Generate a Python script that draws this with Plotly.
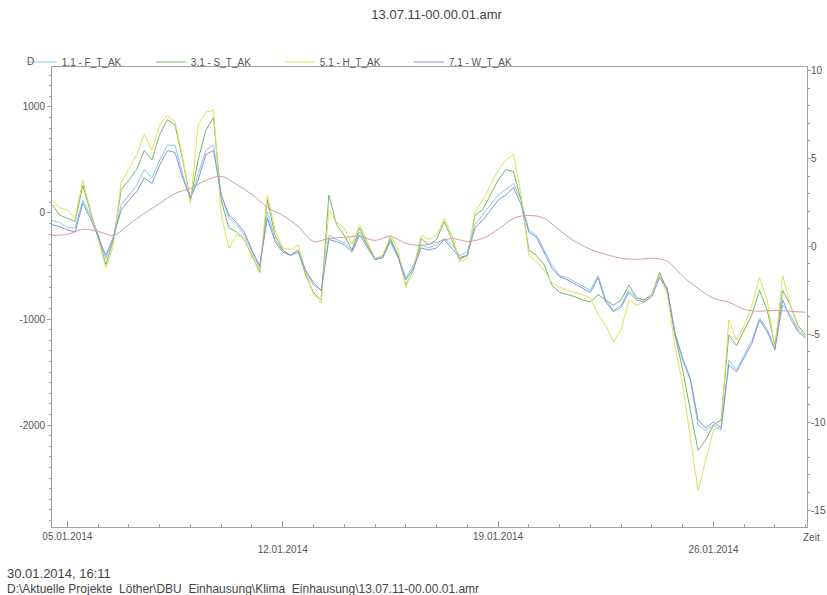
import pandas as pd
import plotly.graph_objects as go

# Zeitachse: 6-stuendliche Werte, Aussentemperatur 12-stuendlich
zeit = pd.date_range('2014-01-04 12:00', '2014-01-29 00:00', freq='6h')
zeit_temp = pd.date_range('2014-01-04 12:00', '2014-01-29 00:00', freq='12h')

f_t_ak = [-70, -90, -140, -140, 120, -20, -210, -430, -240, 80,
          170, 260, 410, 330, 500, 640, 640, 360, 140, 360,
          590, 640, 170, -50, -110, -210, -370, -520, 10, -250,
          -350, -400, -350, -560, -680, -730, -210, -250, -280, -350,
          -180, -300, -430, -400, -250, -400, -610, -490, -300, -330,
          -300, -240, -300, -400, -370, -110, -20, 80, 170, 220,
          280, 120, -160, -210, -350, -490, -590, -610, -650, -690,
          -730, -590, -820, -920, -870, -730, -800, -820, -770, -590,
          -730, -1150, -1390, -1580, -2000, -2050, -2000, -2050, -1390, -1480,
          -1340, -1200, -990, -1100, -1270, -870, -960, -1100, -1160]

s_t_ak = [80, -20, -50, -80, 260, 10, -210, -490, -250, 220,
          310, 410, 590, 500, 740, 880, 830, 500, 120, 500,
          780, 900, 120, -140, -180, -250, -400, -560, 120, -210,
          -350, -400, -350, -590, -750, -820, 170, -110, -210, -350,
          -140, -300, -440, -420, -240, -400, -680, -540, -240, -300,
          -250, -80, -250, -440, -400, -20, 30, 170, 310, 410,
          390, 120, -350, -400, -490, -680, -750, -770, -790, -820,
          -840, -770, -820, -870, -820, -680, -800, -820, -770, -560,
          -730, -1150, -1480, -1860, -2240, -2140, -2000, -1950, -1150, -1250,
          -1100, -960, -730, -920, -1250, -730, -870, -1060, -1150]

h_t_ak = [120, 50, 30, -50, 310, 30, -240, -520, -300, 290,
          420, 550, 740, 590, 830, 920, 860, 520, 90, 830,
          950, 970, -20, -330, -210, -240, -420, -540, 170, -160,
          -330, -350, -300, -560, -770, -850, 30, -90, -140, -300,
          -110, -270, -430, -400, -210, -350, -700, -520, -210, -250,
          -210, -50, -210, -460, -430, 10, 120, 260, 400, 500,
          550, 170, -400, -460, -540, -660, -700, -730, -750, -770,
          -800, -960, -1060, -1220, -1100, -820, -870, -840, -770, -590,
          -770, -1250, -1620, -2140, -2620, -2330, -2050, -2000, -1010, -1200,
          -1060, -870, -610, -820, -1290, -590, -870, -1080, -1150]

w_t_ak = [-110, -130, -160, -180, 90, -50, -230, -400, -220, 30,
          120, 200, 330, 280, 450, 590, 570, 330, 140, 310,
          550, 590, 170, -20, -90, -180, -350, -500, -50, -270,
          -370, -400, -370, -540, -660, -730, -250, -270, -300, -370,
          -210, -320, -440, -420, -270, -420, -630, -520, -330, -350,
          -330, -250, -330, -420, -400, -140, -70, 30, 120, 170,
          240, 80, -180, -230, -380, -520, -600, -630, -670, -710,
          -750, -610, -840, -930, -890, -750, -820, -840, -790, -610,
          -710, -1130, -1370, -1560, -1950, -2030, -1970, -2030, -1430, -1500,
          -1370, -1230, -1010, -1120, -1290, -820, -990, -1120, -1180]

temp = [0.63, 0.68, 0.97, 0.85, 0.63, 1.25, 1.88, 2.44, 3.01, 3.30,
        3.75, 3.98, 3.52, 2.95, 2.22, 1.76, 1.14, 0.28, 0.45, 0.51,
        0.57, 0.34, 0.57, 0.17, 0.06, 0.23, 0.45, 0.28, 0.45, 0.97,
        1.59, 1.76, 1.59, 0.91, 0.28, -0.17, -0.45, -0.68, -0.74, -0.68,
        -0.85, -1.70, -2.39, -2.95, -3.18, -3.58, -3.69, -3.64, -3.69, -3.75]

serien = [
    ('1.1 - F_T_AK', f_t_ak, '#86cde2'),
    ('3.1 - S_T_AK', s_t_ak, '#72b865'),
    ('5.1 - H_T_AK', h_t_ak, '#e2e05a'),
    ('7.1 - W_T_AK', w_t_ak, '#8593e0'),
]

x_tickvals = ['2014-01-05', '2014-01-12', '2014-01-19', '2014-01-26']
x_ticktext = ['05.01.2014', '<br>12.01.2014', '19.01.2014', '<br>26.01.2014']
y_tickvals = [-2000, -1000, 0, 1000]
y_ticktext = ['-2000', '-1000', '0', '1000']
y2_tickvals = [-15, -10, -5, 0, 5, 10]
y2_ticktext = ['-15', '-10', '-5', '0', '5', '10']

fig = go.Figure()

for name, werte, farbe in serien:
    fig.add_trace(go.Scatter(
        x=zeit, y=werte, name=name, mode='lines',
        line=dict(color=farbe, width=1)
    ))

fig.add_trace(go.Scatter(
    x=zeit_temp, y=temp, name='Temperatur', mode='lines', yaxis='y2',
    line=dict(color='#d99aa3', width=1, shape='spline'), showlegend=False
))

grau = '#a0a0a0'
schrift = dict(family='Liberation Sans, Arial, sans-serif', size=10, color='#555')

fig.update_layout(
    width=827,
    height=595,
    margin=dict(l=52, r=20, t=67, b=68),
    paper_bgcolor='white',
    plot_bgcolor='white',
    font=schrift,
    title=dict(
        text='13.07.11-00.00.01.amr',
        x=0.528, xref='container', xanchor='center',
        y=0.975, yanchor='middle',
        font=dict(size=13, color='#444')
    ),
    legend=dict(
        orientation='h',
        x=-0.04, xanchor='left',
        y=1.011, yanchor='middle',
        entrywidth=84, entrywidthmode='pixels',
        font=dict(size=10, color='#555'),
        bgcolor='rgba(0,0,0,0)'
    ),
    xaxis=dict(
        type='date', automargin=False,
        range=['2014-01-04 12:00', '2014-01-29 01:00'],
        tickvals=x_tickvals, ticktext=x_ticktext,
        ticks='inside', ticklen=6, tickcolor=grau,
        minor=dict(dtick=86400000, ticks='inside', ticklen=3, tickcolor=grau),
        showline=True, linecolor=grau, mirror=True,
        showgrid=False, zeroline=False
    ),
    yaxis=dict(
        range=[-2962, 1377], automargin=False,
        tickvals=y_tickvals, ticktext=y_ticktext,
        ticks='outside', ticklen=4, tickcolor=grau,
        minor=dict(dtick=100, ticks='outside', ticklen=2, tickcolor=grau),
        showline=True, linecolor=grau,
        showgrid=False, zeroline=False
    ),
    yaxis2=dict(
        overlaying='y', side='right', automargin=False,
        range=[-15.96, 10.2],
        tickvals=y2_tickvals, ticktext=y2_ticktext,
        ticks='outside', ticklen=3, tickcolor=grau,
        ticklabelstandoff=-2,
        minor=dict(dtick=1, ticks='outside', ticklen=2, tickcolor=grau),
        showline=True, linecolor=grau,
        showgrid=False, zeroline=False
    ),
    annotations=[
        dict(text='D', xref='paper', yref='paper', x=-0.029, y=1.011,
             xanchor='center', yanchor='middle', showarrow=False,
             font=dict(size=10, color='#555')),
        dict(text='Zeit', xref='paper', yref='paper', x=1.006, y=-0.022,
             xanchor='center', yanchor='middle', showarrow=False,
             font=dict(size=10, color='#555')),
        dict(text='30.01.2014, 16:11', xref='paper', yref='paper',
             x=-0.0623, y=-0.1, xanchor='left', yanchor='middle',
             showarrow=False, font=dict(size=13, color='#444')),
        dict(text='D:\\Aktuelle Projekte  Löther\\DBU  Einhausung\\Klima_Einhausung\\13.07.11-00.00.01.amr',
             xref='paper', yref='paper', x=-0.0623, y=-0.135,
             xanchor='left', yanchor='middle', showarrow=False,
             font=dict(size=12, color='#444')),
    ]
)

# Seitenrand entfernen, damit die Figur genau das Fenster fuellt
fig.write_html('out.html',
               config={'displayModeBar': False},
               post_script="document.body.style.margin='0';document.body.style.overflow='hidden';")
